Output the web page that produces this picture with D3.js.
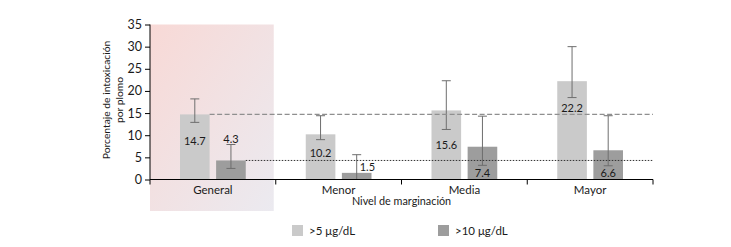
<!DOCTYPE html>
<html>
<head>
<meta charset="utf-8">
<script src="https://cdn.jsdelivr.net/npm/d3@7"></script>
<style>
  body { margin: 0; background: #fff; }
  svg text { font-family: Lato, "Open Sans", sans-serif; fill: #1a1a1a; }
</style>
</head>
<body>
<svg id="chart" width="731" height="247"></svg>
<script>
// data
const categories = ["General", "Menor", "Media", "Mayor"];
const seriesNames = [">5 μg/dL", ">10 μg/dL"];
const over5 = [14.7, 10.2, 15.6, 22.2];
const over5Low = [12.9, 9.0, 11.3, 18.5];
const over5High = [18.2, 14.4, 22.3, 30.0];
const over10 = [4.3, 1.5, 7.4, 6.6];
const over10Low = [2.5, 0, 3.2, 3.1];
const over10High = [7.9, 5.6, 14.3, 14.4];
const yTicks = [0, 5, 10, 15, 20, 25, 30, 35];

const margin = {left: 150, right: 78, top: 24.5, bottom: 67.5};
const width = 731, height = 247;
const viewWidth = width - margin.left - margin.right;
const viewHeight = height - margin.top - margin.bottom;

const colors = ["#cacaca", "#9d9d9d"];

let svg = d3.select("#chart");

let defs = svg.append("defs");
let grad = defs.append("linearGradient").attr("id", "genBg")
               .attr("x1", "0%").attr("y1", "0%").attr("x2", "100%").attr("y2", "100%");
grad.append("stop").attr("offset", "0%").attr("stop-color", "#f8d9d6");
grad.append("stop").attr("offset", "100%").attr("stop-color", "#ebeaf0");

let x = d3.scaleBand()
          .domain(categories)
          .range([margin.left, margin.left + viewWidth]);

let xInner = d3.scaleBand()
               .domain([0, 1])
               .range([30, x.bandwidth() - 30])
               .paddingInner(0.18);

let y = d3.scaleLinear()
          .domain([0, 35])
          .range([margin.top + viewHeight, margin.top]);

// shaded background behind "General"
svg.append("rect")
   .attr("x", x("General"))
   .attr("y", y(35))
   .attr("width", x.bandwidth() - 2)
   .attr("height", 211 - y(35))
   .attr("fill", "url(#genBg)");

// bars
let rows = categories.map((c, i) => ({
    cat: c, i: i,
    vals: [
        {s: 0, i: i, v: over5[i], lo: over5Low[i], hi: over5High[i]},
        {s: 1, i: i, v: over10[i], lo: over10Low[i], hi: over10High[i]}
    ]
}));

let groups = svg.append("g").selectAll("g").data(rows).join("g")
                .attr("transform", d => `translate(${x(d.cat)},0)`);

groups.selectAll("rect").data(d => d.vals).join("rect")
      .attr("x", d => xInner(d.s))
      .attr("y", d => y(d.v))
      .attr("width", xInner.bandwidth())
      .attr("height", d => y(0) - y(d.v))
      .attr("fill", d => colors[d.s]);

// reference lines
let lineEnd = margin.left + viewWidth;
svg.append("line")
   .attr("x1", x("General") + xInner(0) + xInner.bandwidth()).attr("x2", lineEnd)
   .attr("y1", y(over5[0])).attr("y2", y(over5[0]))
   .style("stroke", "#8f8f8f").style("stroke-width", 1.2)
   .style("stroke-dasharray", "5,2.5");
svg.append("line")
   .attr("x1", x("General") + xInner(1) + xInner.bandwidth()).attr("x2", lineEnd)
   .attr("y1", y(over10[0])).attr("y2", y(over10[0]))
   .style("stroke", "#333").style("stroke-width", 1)
   .style("stroke-dasharray", "1.5,1.5");

// error bars
let eb = groups.selectAll("g.err").data(d => d.vals).join("g")
               .attr("class", "err")
               .attr("transform", d => `translate(${xInner(d.s) + xInner.bandwidth() / 2},0)`);
eb.append("line")
  .attr("y1", d => y(d.lo)).attr("y2", d => y(d.hi))
  .style("stroke", "#6e6e6e").style("stroke-width", 1);
eb.append("line")
  .attr("x1", -4.5).attr("x2", 4.5)
  .attr("y1", d => y(d.hi)).attr("y2", d => y(d.hi))
  .style("stroke", "#6e6e6e").style("stroke-width", 1);
eb.filter(d => d.lo > 0).append("line")
  .attr("x1", -4.5).attr("x2", 4.5)
  .attr("y1", d => y(d.lo)).attr("y2", d => y(d.lo))
  .style("stroke", "#6e6e6e").style("stroke-width", 1);

// value labels
const lightLabelOffset = [23, 17, 20, 14];
groups.selectAll("text.val").data(d => d.vals).join("text")
      .attr("class", "val")
      .attr("font-size", 11)
      .attr("text-anchor", d => (d.s === 1 && d.lo === 0) ? "start" : "middle")
      .attr("x", d => {
          let cx = xInner(d.s) + xInner.bandwidth() / 2;
          return (d.s === 1 && d.lo === 0) ? cx + 3 : cx;
      })
      .attr("y", d => {
          if (d.s === 0) return y(d.lo) + lightLabelOffset[d.i];
          if (d.lo === 0) return y(d.v) - 2;
          if (d.i === 0) return y(d.hi) - 2;
          return y(0) - 3;
      })
      .text(d => d.v.toFixed(1));

// axes
let axisGLeft = svg.append("g").attr("transform", `translate(${margin.left},0)`);
axisGLeft.call(d3.axisLeft(y).tickValues(yTicks).tickSize(5).tickPadding(3));
axisGLeft.select(".domain").attr("d", `M0,${y(0)}V${y(35)}`);
axisGLeft.selectAll(".tick text").attr("font-size", 12.5);

let axisGBottom = svg.append("g").attr("transform", `translate(0,${y(0)})`);
axisGBottom.call(d3.axisBottom(x).tickSize(0).tickPadding(6));
axisGBottom.select(".domain").attr("d", `M${margin.left},0H${lineEnd}`);
axisGBottom.selectAll(".tick text").attr("font-size", 11.5);
axisGBottom.selectAll(".sep").data(categories.concat(["end"])).join("line")
           .attr("class", "sep")
           .attr("x1", (d, i) => i < categories.length ? x(d) : lineEnd)
           .attr("x2", (d, i) => i < categories.length ? x(d) : lineEnd)
           .attr("y1", 0).attr("y2", 5)
           .style("stroke", "#000");

svg.selectAll(".tick text").style("font-family", "Lato, sans-serif");
svg.selectAll(".domain, .tick line").style("stroke", "#000");

// axis titles
let xTitle = svg.append("text")
   .attr("y", 205)
   .attr("text-anchor", "start")
   .attr("font-size", 10.8)
   .text("Nivel de marginación");
let xTitleLen = xTitle.node().getComputedTextLength();
xTitle.attr("x", margin.left + viewWidth / 2 - xTitleLen / 2);

let yTitle = svg.append("text")
   .attr("transform", `translate(110,100) rotate(-90)`)
   .attr("text-anchor", "middle")
   .attr("font-size", 10.3);
yTitle.append("tspan").attr("x", 0).attr("dy", 0).text("Porcentaje de intoxicación");
yTitle.append("tspan").attr("x", 0).attr("dy", 13).text("por plomo");

// legend
let legend = svg.append("g").selectAll("g").data(seriesNames).join("g")
                .attr("transform", (d, i) => `translate(${292 + i * 146},225)`);
legend.append("rect")
      .attr("width", 11).attr("height", 11)
      .attr("fill", (d, i) => colors[i]);
legend.append("text")
      .attr("x", 17).attr("y", 10)
      .attr("font-size", 11.5)
      .text(d => d);
</script>
</body>
</html>
